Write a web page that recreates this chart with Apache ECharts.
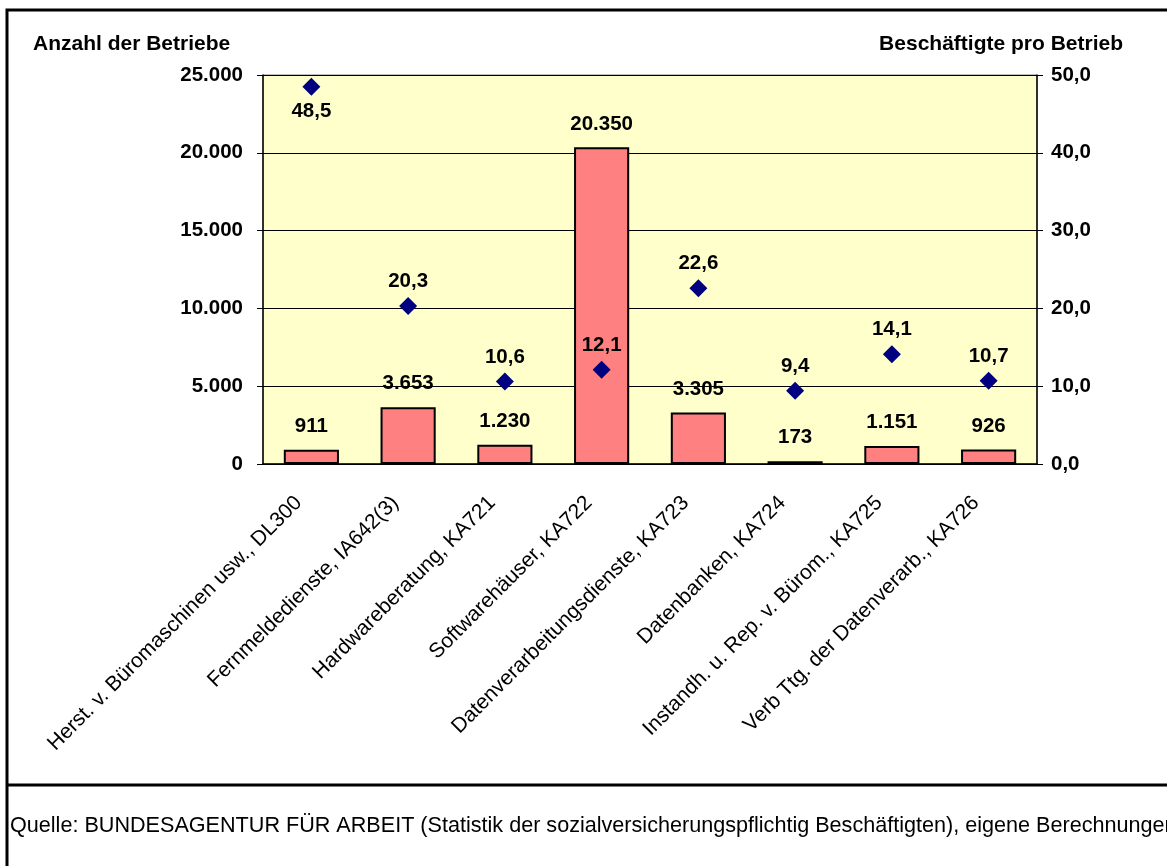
<!DOCTYPE html>
<html>
<head>
<meta charset="utf-8">
<script src="https://cdn.jsdelivr.net/npm/echarts@6/dist/echarts.min.js"></script>
<style>
html,body{margin:0;padding:0;background:#fff;}
#c{width:1167px;height:866px;}
</style>
</head>
<body>
<div id="c"></div>
<script>
const categories = [
  "Herst. v. Büromaschinen usw., DL300",
  "Fernmeldedienste, IA642(3)",
  "Hardwareberatung, KA721",
  "Softwarehäuser, KA722",
  "Datenverarbeitungsdienste, KA723",
  "Datenbanken, KA724",
  "Instandh. u. Rep. v. Bürom., KA725",
  "Verb Ttg. der Datenverarb., KA726"
];
const betriebe = [911, 3653, 1230, 20350, 3305, 173, 1151, 926];
const beschaeftigte = [48.5, 20.3, 10.6, 12.1, 22.6, 9.4, 14.1, 10.7];
const leftTicks = { min: 0, max: 25000, interval: 5000 };
const rightTicks = { min: 0, max: 50, interval: 10 };
const leftTitle = "Anzahl der Betriebe";
const rightTitle = "Beschäftigte pro Betrieb";
const source = "Quelle: BUNDESAGENTUR FÜR ARBEIT (Statistik der sozialversicherungspflichtig Beschäftigten), eigene Berechnungen";

const FONT = '"Liberation Sans", Arial, sans-serif';
const fmtThousands = v => String(Math.round(v)).replace(/\B(?=(\d{3})+(?!\d))/g, '.');
const fmtDec = v => Number(v).toFixed(1).replace('.', ',');

const chart = echarts.init(document.getElementById('c'), null, {renderer: 'canvas'});
const scatterData = beschaeftigte.map((v, i) => i === 0
  ? { value: v, label: { position: 'bottom' } }
  : v);

chart.setOption({
  animation: false,
  backgroundColor: '#fff',
  textStyle: { fontFamily: FONT },
  grid: {
    left: 263, right: 130, top: 75, bottom: 402,
    show: true, backgroundColor: '#FFFFCC', borderColor: '#808080', borderWidth: 1
  },
  xAxis: {
    type: 'category',
    data: categories,
    axisLine: { lineStyle: { color: '#000', width: 1.5 } },
    axisTick: { show: false },
    axisLabel: {
      rotate: 45, interval: 0, margin: 23, padding: [0, 18, 0, 0],
      color: '#000', fontSize: 21, fontFamily: FONT
    }
  },
  yAxis: [
    {
      type: 'value', min: leftTicks.min, max: leftTicks.max, interval: leftTicks.interval,
      axisLine: { show: true, lineStyle: { color: '#000', width: 1.5 } },
      axisTick: { show: true, length: 6, lineStyle: { color: '#000' } },
      splitLine: { show: true, lineStyle: { color: '#000', width: 1 } },
      axisLabel: { color: '#000', fontSize: 20.5, fontWeight: 'bold', margin: 20, fontFamily: FONT,
        formatter: fmtThousands }
    },
    {
      type: 'value', min: rightTicks.min, max: rightTicks.max, interval: rightTicks.interval,
      position: 'right',
      axisLine: { show: true, lineStyle: { color: '#000', width: 1.5 } },
      axisTick: { show: true, length: 6, lineStyle: { color: '#000' } },
      splitLine: { show: false },
      axisLabel: { color: '#000', fontSize: 20.5, fontWeight: 'bold', margin: 14, fontFamily: FONT,
        formatter: fmtDec }
    }
  ],
  series: [
    {
      type: 'bar',
      data: betriebe,
      barCategoryGap: '43%',
      itemStyle: { color: '#FF8080', borderColor: '#000', borderWidth: 2 },
      label: {
        show: true, position: 'top', distance: 13,
        color: '#000', fontSize: 20.5, fontWeight: 'bold', fontFamily: FONT,
        formatter: p => fmtThousands(p.value)
      },
      z: 2
    },
    {
      type: 'scatter',
      yAxisIndex: 1,
      data: scatterData,
      symbol: 'diamond',
      symbolSize: [18, 18],
      itemStyle: { color: '#000080', opacity: 1 },
      label: {
        show: true, position: 'top', distance: 5,
        color: '#000', fontSize: 20.5, fontWeight: 'bold', fontFamily: FONT,
        formatter: p => fmtDec(p.value)
      },
      z: 3
    }
  ],
  graphic: [
    { type: 'rect', shape: { x: 7, y: 10, width: 1200, height: 900 },
      style: { fill: 'none', stroke: '#000', lineWidth: 3 }, silent: true },
    { type: 'line', shape: { x1: 7, y1: 785, x2: 1200, y2: 785 },
      style: { stroke: '#000', lineWidth: 3 }, silent: true },
    { type: 'text', left: 33, top: 34,
      style: { text: leftTitle, fill: '#000', font: 'bold 21px ' + FONT } },
    { type: 'text', right: 44, top: 34,
      style: { text: rightTitle, fill: '#000', font: 'bold 21px ' + FONT } },
    { type: 'text', left: 10, top: 815,
      style: { text: source, fill: '#000', font: '21.6px ' + FONT } }
  ]
});
</script>
</body>
</html>
